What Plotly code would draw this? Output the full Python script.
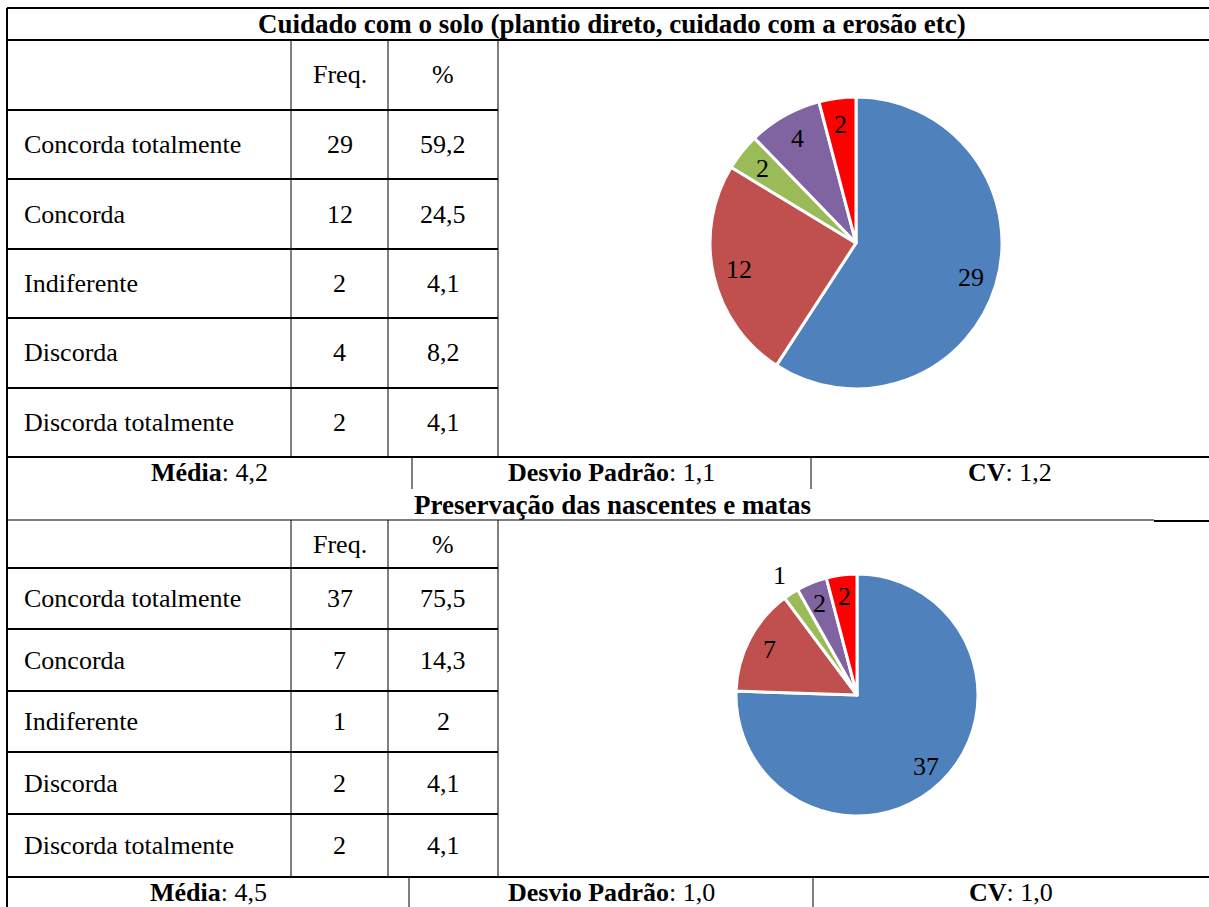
import math
import plotly.graph_objects as go

W, H = 1209, 907

# ---- data -------------------------------------------------------------
categorias = ["Concorda totalmente", "Concorda", "Indiferente", "Discorda", "Discorda totalmente"]
cores = ["#4F81BD", "#C0504D", "#9BBB59", "#8064A2", "#FF0000"]

titulo_solo = "Cuidado com o solo (plantio direto, cuidado com a erosão etc)"
freq_solo = [29, 12, 2, 4, 2]
pct_solo = ["59,2", "24,5", "4,1", "8,2", "4,1"]
media_solo, desvio_solo, cv_solo = "4,2", "1,1", "1,2"

titulo_nasc = "Preservação das nascentes e matas"
freq_nasc = [37, 7, 1, 2, 2]
pct_nasc = ["75,5", "14,3", "2", "4,1", "4,1"]
media_nasc, desvio_nasc, cv_nasc = "4,5", "1,0", "1,0"

# ---- table geometry (pixels) -------------------------------------------
X_LEFT, X_C1, X_C2, X_C3, X_RIGHT = 7, 291, 388, 498, W
FONT = "'Liberation Serif', 'Times New Roman', serif"
FS = 26

fig = go.Figure()
shapes = []
annotations = []


def px(x):
    return x / W


def py(y):
    return 1 - y / H


def hline(x0, x1, y, w=2):
    shapes.append(dict(type="line", xref="paper", yref="paper",
                       x0=px(x0), x1=px(x1), y0=py(y), y1=py(y),
                       line=dict(color="black", width=w)))


def vline(x, y0, y1, w=1):
    shapes.append(dict(type="line", xref="paper", yref="paper",
                       x0=px(x), x1=px(x), y0=py(y0), y1=py(y1),
                       line=dict(color="black", width=w)))


def text(t, x, y, anchor="center", size=FS):
    annotations.append(dict(text=t, x=px(x), y=py(y), xref="paper", yref="paper",
                            xanchor=anchor, yanchor="middle", showarrow=False,
                            font=dict(family=FONT, size=size, color="black")))


def bloco(top, title_bot, head_bot, row_bots, stats_bot, divs, titulo,
          freqs, pcts, media, desvio, cv, title_line_split=None):
    # title row
    text("<b>" + titulo + "</b>", 612, (top + title_bot) / 2, size=27)
    if title_line_split is None:
        hline(X_LEFT, X_RIGHT, title_bot, 2)
    else:
        hline(X_LEFT, title_line_split, title_bot, 1)
        hline(title_line_split, X_RIGHT, title_bot + 1, 2)
    # header
    text("Freq.", (X_C1 + X_C2) / 2, (title_bot + head_bot) / 2)
    text("%", (X_C2 + X_C3) / 2, (title_bot + head_bot) / 2)
    hline(X_LEFT, X_C3, head_bot, 2)
    # data rows
    prev = head_bot
    for cat, f, p, b in zip(categorias, freqs, pcts, row_bots):
        yc = (prev + b) / 2
        text(cat, 22, yc, anchor="left")
        text(str(f), (X_C1 + X_C2) / 2, yc)
        text(p, (X_C2 + X_C3) / 2, yc)
        if b != row_bots[-1]:
            hline(X_LEFT, X_C3, b, 2)
        prev = b
    last = row_bots[-1]
    hline(X_LEFT, X_RIGHT, last, 2)
    for x in (X_C1, X_C2, X_C3):
        vline(x, title_bot, last, 1)
    # statistics row
    ys = (last + stats_bot) / 2
    text("<b>Média</b>: " + media, (X_LEFT + divs[0]) / 2, ys)
    text("<b>Desvio Padrão</b>: " + desvio, (divs[0] + divs[1]) / 2, ys)
    text("<b>CV</b>: " + cv, (divs[1] + X_RIGHT) / 2, ys)
    for d in divs:
        vline(d, last, stats_bot, 1)


def pizza(valores, cx, cy, r):
    fig.add_trace(go.Pie(
        values=valores, labels=categorias, sort=False, direction="clockwise",
        rotation=0, textinfo="none", hoverinfo="label+value",
        marker=dict(colors=cores, line=dict(color="white", width=3)),
        domain=dict(x=[px(cx - r), px(cx + r)], y=[py(cy + r), py(cy - r)]),
        showlegend=False,
    ))
    total = sum(valores)
    acum = 0
    for v in valores:
        meio = (acum + v / 2) / total * 2 * math.pi
        acum += v
        frac = 0.82 if v / total >= 0.03 else 1.18
        text(str(v), cx + frac * r * math.sin(meio), cy - frac * r * math.cos(meio))


# outer frame
hline(X_LEFT, X_RIGHT, 8, 2)
vline(X_LEFT, 8, H, 2)

bloco(8, 40, 110, [179, 249, 318, 388, 457], 489, (412, 811),
      titulo_solo, freq_solo, pct_solo, media_solo, desvio_solo, cv_solo)
bloco(489, 520, 568, [629, 691, 752, 814, 877], H, (409, 813),
      titulo_nasc, freq_nasc, pct_nasc, media_nasc, desvio_nasc, cv_nasc,
      title_line_split=1154)

pizza(freq_solo, 856, 243, 146)
pizza(freq_nasc, 857, 695, 121)

fig.update_layout(
    width=W, height=H,
    margin=dict(l=0, r=0, t=0, b=0),
    paper_bgcolor="white", plot_bgcolor="white",
    shapes=shapes, annotations=annotations,
    showlegend=False,
)

fig.write_html("out.html")
